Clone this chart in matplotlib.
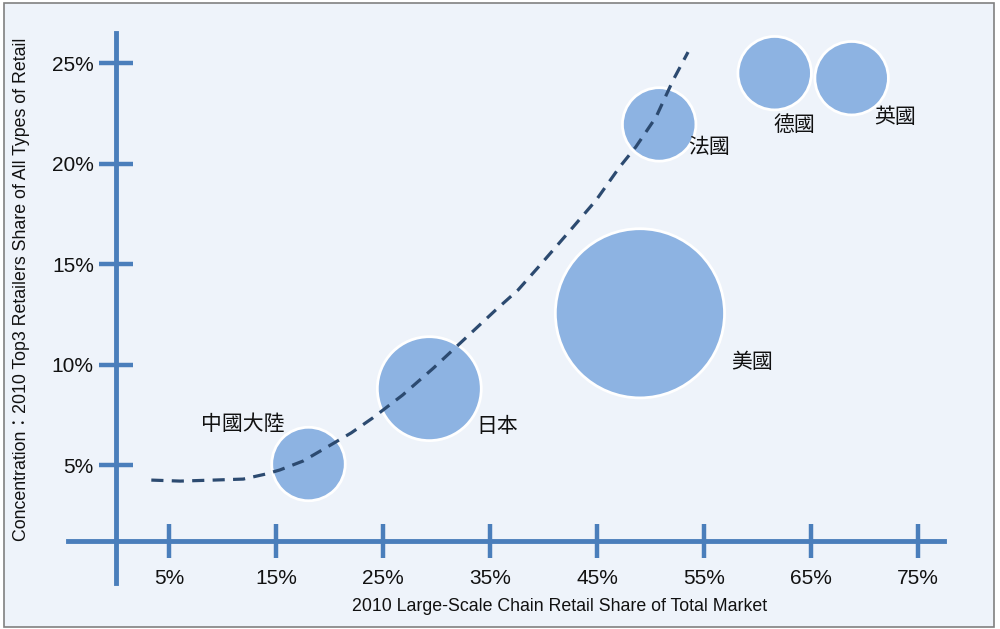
import numpy as np
import matplotlib
matplotlib.use('Agg')
import matplotlib.pyplot as plt
from matplotlib.patches import Rectangle

plt.rcParams['font.family'] = ['Liberation Sans', 'Noto Sans CJK TC', 'DejaVu Sans']

# 各國資料 (x: 連鎖零售市佔率 %, y: 前三大零售商市佔率 %)
countries = ['中國大陸', '日本', '美國', '法國', '德國', '英國']
chain_share = [18.0, 29.3, 49.0, 50.8, 61.6, 68.8]
top3_share = [5.05, 8.8, 12.55, 21.95, 24.5, 24.25]
bubble_size = [1.0, 2.0, 5.3, 1.0, 1.0, 1.0]

# 趨勢線
trend_x = [3.3, 6.0, 9.1, 11.9, 14.0, 15.3, 17.5, 19.6, 22.0, 24.0, 26.8, 29.7,
           32.5, 35.5, 37.6, 39.5, 42.5, 44.9, 47.1, 48.6, 50.5, 52.1, 53.5]
trend_y = [4.25, 4.2, 4.25, 4.3, 4.55, 4.75, 5.2, 5.85, 6.6, 7.34, 8.48, 9.83,
           11.22, 12.71, 13.71, 14.85, 16.69, 18.18, 19.83, 20.82, 22.31, 24.15, 25.55]

x_ticks = [5, 15, 25, 35, 45, 55, 65, 75]
y_ticks = [5, 10, 15, 20, 25]

axis_blue = '#4A7EBB'
bubble_blue = '#8DB3E2'
line_color = '#2C4A70'

fig = plt.figure(figsize=(10, 6.29), dpi=100)
fig.patch.set_facecolor('white')
fig.patches.append(Rectangle((0.004, 0.003), 0.99, 0.993, transform=fig.transFigure,
                             facecolor='#EEF3FA', edgecolor='#808080', linewidth=1.2,
                             zorder=-1))

ax = fig.add_axes([0.063, 0.062, 0.887, 0.898])
ax.set_facecolor('none')
ax.set_xlim(-4.96, 78.0)
ax.set_ylim(-1.22, 26.89)

# 氣泡
ax.scatter(chain_share, top3_share, s=np.array(bubble_size) * 2800,
           color=bubble_blue, edgecolors='white', linewidths=2.0, zorder=2)

# 趨勢線
ax.plot(trend_x, trend_y, color=line_color, lw=2.3, dashes=(3.8, 2.6), zorder=3)

# 標籤
offsets = [(-47, 29), (49, -27), (81, -35), (36, -16), (14, -37), (31, -28)]
for name, x, y, off in zip(countries, chain_share, top3_share, offsets):
    ax.annotate(name, (x, y), xytext=off, textcoords='offset points',
                ha='center', va='center', fontsize=15,
                family=['Noto Sans CJK TC'], weight='medium', color='#111111', zorder=4)

# 座標軸
for s in ['top', 'right']:
    ax.spines[s].set_visible(False)
ax.spines['left'].set_position(('data', 0))
ax.spines['bottom'].set_position(('data', 1.2))
ax.spines['left'].set_bounds(-0.87, 26.5)
ax.spines['bottom'].set_bounds(-4.5, 77.4)
for s in ['left', 'bottom']:
    ax.spines[s].set_color(axis_blue)
    ax.spines[s].set_linewidth(3.5)

ax.set_xticks(x_ticks)
ax.set_xticklabels([f'{v}%' for v in x_ticks])
ax.set_yticks(y_ticks)
ax.set_yticklabels([f'{v}%' for v in y_ticks])
ax.tick_params(axis='both', direction='inout', length=24, width=3.2,
               color=axis_blue, labelsize=15, labelcolor='#111111')
ax.tick_params(axis='x', pad=8)
ax.tick_params(axis='y', pad=4)

fig.text(0.56, 0.035, '2010 Large-Scale Chain Retail Share of Total Market',
         ha='center', va='center', fontsize=12.8, color='#111111')
fig.text(0.022, 0.54, 'Concentration：2010 Top3 Retailers Share of All Types of Retail',
         ha='center', va='center', rotation=90, fontsize=12.8, color='#111111')

fig.savefig('out.png', dpi=100)
